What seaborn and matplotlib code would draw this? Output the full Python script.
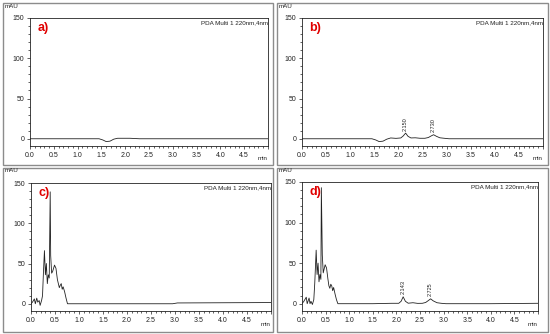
import matplotlib
matplotlib.use("Agg")
import matplotlib.pyplot as plt
import seaborn as sns
import pandas as pd
from matplotlib.patches import Rectangle
from matplotlib.ticker import MultipleLocator

sns.set_style("white")
plt.rcParams['font.family'] = ['Liberation Sans', 'DejaVu Sans']

# ---- data ----
time_a = [0.0, 1.45, 1.53, 1.6, 1.68, 1.76, 1.84, 2.1, 2.3, 5.0]
mau_a = [0.0, 0.0, -1.5, -3.5, -3.0, -0.5, 0.6, 0.6, 0.0, 0.0]

time_b = [0.0, 1.45, 1.53, 1.6, 1.68, 1.76, 1.84, 1.95, 2.05, 2.1, 2.15, 2.2, 2.26,
          2.35, 2.45, 2.55, 2.62, 2.68, 2.73, 2.79, 2.86, 2.95, 3.05, 5.0]
mau_b = [0.0, 0.0, -1.5, -3.5, -3.0, -0.5, 1.0, 0.5, 1.0, 3.5, 7.0, 3.0, 1.0,
         1.2, 0.6, 0.6, 1.5, 3.5, 5.0, 3.0, 1.2, 0.6, 0.0, 0.0]

time_c = [0.0, 0.03, 0.07, 0.09, 0.12, 0.14, 0.17, 0.19, 0.22, 0.24, 0.26, 0.28,
          0.3, 0.32, 0.34, 0.36, 0.38, 0.4, 0.41, 0.43, 0.45, 0.49, 0.52, 0.55,
          0.57, 0.59, 0.61, 0.63, 0.65, 0.67, 0.7, 0.73, 0.76, 1.5, 1.9, 2.95, 3.05, 5.0]
mau_c = [0.0, 2.0, 6.0, 0.0, 7.0, 2.0, 4.0, -2.0, 4.0, 10.0, 40.0, 66.0,
         36.0, 50.0, 25.0, 36.0, 32.0, 139.0, 60.0, 38.0, 40.0, 48.0, 44.0, 30.0,
         25.0, 20.0, 23.0, 25.0, 18.0, 21.0, 15.0, 7.0, 0.0, 0.0, 0.0, 0.0, 1.0, 1.5]

time_d = [0.0, 0.04, 0.09, 0.11, 0.15, 0.17, 0.19, 0.22, 0.25, 0.27, 0.3, 0.32,
          0.34, 0.36, 0.38, 0.4, 0.41, 0.43, 0.45, 0.49, 0.52, 0.55, 0.57, 0.59,
          0.61, 0.63, 0.65, 0.67, 0.7, 0.73, 0.76, 1.5, 1.9, 2.05, 2.1, 2.143, 2.19,
          2.25, 2.35, 2.45, 2.55, 2.62, 2.68, 2.725, 2.78, 2.86, 2.95, 3.05, 4.0, 5.0]
mau_d = [0.0, 3.0, 8.0, 0.0, 7.0, 0.0, 3.0, -1.0, 5.0, 25.0, 66.0, 36.0,
         50.0, 27.0, 36.0, 30.0, 143.0, 60.0, 38.0, 48.0, 44.0, 30.0, 22.0, 19.0,
         24.0, 22.0, 16.0, 20.0, 12.0, 5.0, 0.0, 0.0, 0.5, 0.5, 3.0, 8.5, 3.0,
         0.6, 1.2, 0.4, 0.5, 1.5, 4.0, 6.0, 3.5, 1.2, 0.5, 0.0, 0.0, 0.5]

peaks_b = [(2.150, 7.0, "2.150"), (2.730, 5.0, "2.730")]
peaks_d = [(2.143, 8.5, "2.143"), (2.725, 6.0, "2.725")]

panel_labels = ["a)", "b)", "c)", "d)"]
x_ticks = [0.0, 0.5, 1.0, 1.5, 2.0, 2.5, 3.0, 3.5, 4.0, 4.5]
y_ticks = [0, 50, 100, 150]
header = "PDA Multi 1 220nm,4nm"

W, H = 550, 334
fig = plt.figure(figsize=(W / 100, H / 100), dpi=100)

def fx(px):
    return px / W

def fy(py):
    return 1 - py / H

# panel boxes (pixel coordinates)
boxes = [(3, 3, 273, 165), (277, 3, 548, 165), (3, 168, 273, 332), (277, 168, 548, 332)]
for (x0, y0, x1, y1) in boxes:
    fig.patches.append(Rectangle((fx(x0), fy(y1)), fx(x1 - x0), (y1 - y0) / H,
                                 transform=fig.transFigure, fill=False,
                                 edgecolor="#8c8c8c", linewidth=1.0))

axes_px = [(30, 18, 268, 146), (302, 18, 543, 146), (31, 183, 271, 311), (302, 182, 538, 311)]
data = [(time_a, mau_a, []), (time_b, mau_b, peaks_b), (time_c, mau_c, []), (time_d, mau_d, peaks_d)]

for i, ((l, t, r, b), (tt, vv, pk), lab, box) in enumerate(zip(axes_px, data, panel_labels, boxes)):
    ax = fig.add_axes([fx(l), fy(b), fx(r - l), (b - t) / H])
    df = pd.DataFrame({"t": tt, "v": vv})
    sns.lineplot(data=df, x="t", y="v", ax=ax, color="#222222", linewidth=0.6,
                 estimator=None, sort=False)
    ax.set_xlim(0, 5.0)
    ax.set_ylim(-9, 150)
    ax.set_xlabel("")
    ax.set_ylabel("")
    ax.set_xticks(x_ticks + [5.0])
    ax.set_xticklabels([f"{x:.1f}" for x in x_ticks] + [""])
    ax.set_yticks(y_ticks)
    ax.set_yticklabels([str(y) for y in y_ticks])
    ax.xaxis.set_minor_locator(MultipleLocator(0.1))
    ax.yaxis.set_minor_locator(MultipleLocator(10))
    ax.tick_params(axis="both", which="major", direction="out", length=2.5, width=0.5,
                   labelsize=5, pad=1.5, colors="#222222", bottom=True, left=True)
    ax.tick_params(axis="both", which="minor", direction="out", length=1.2, width=0.5,
                   bottom=True, left=True, colors="#222222")
    for s in ax.spines.values():
        s.set_visible(True)
        s.set_linewidth(0.6)
        s.set_color("#222222")
    ax.text(1.0, 0.985, header, transform=ax.transAxes, ha="right", va="top",
            fontsize=4.5, color="#222222")
    ax.text(0.03, 0.92, lab, transform=ax.transAxes, ha="left", va="center",
            fontsize=9, fontweight="bold", color="#e00000")
    for (px, py, txt) in pk:
        ax.text(px, py + 3, txt, rotation=90, ha="center", va="bottom",
                fontsize=4, color="#222222")
    # "mAU" and "min" labels in figure coordinates
    fig.text(fx(box[0] + 2), fy(t - 12), "mAU", ha="left", va="center", fontsize=4.5,
             color="#222222")
    fig.text(fx(r), fy(b + 13), "min", ha="right", va="center", fontsize=4.5,
             color="#222222")

fig.savefig("out.png", dpi=100)
